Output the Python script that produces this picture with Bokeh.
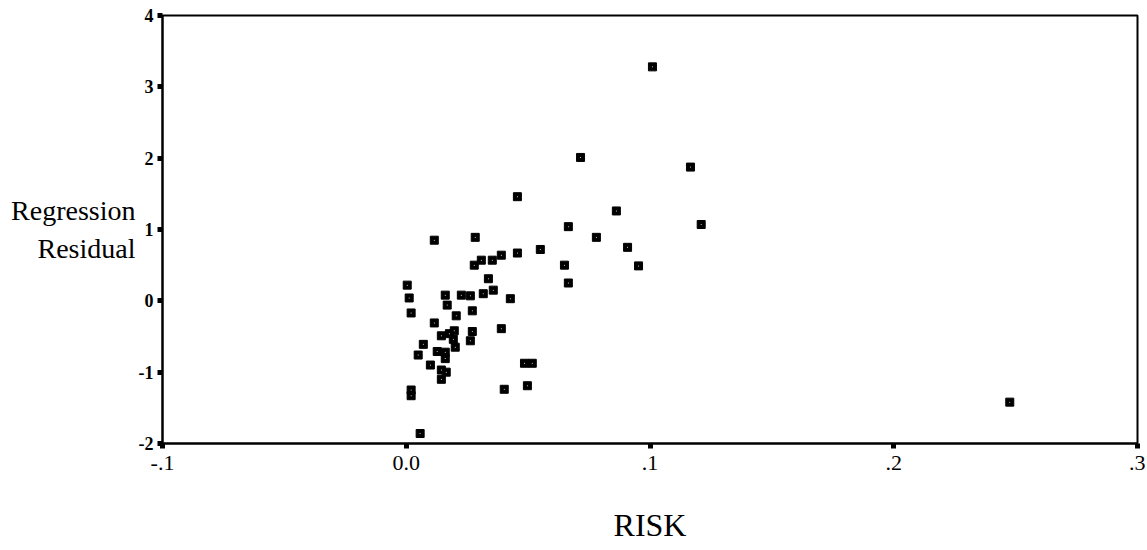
from bokeh.plotting import figure
from bokeh.models import ColumnDataSource, Range1d, FixedTicker
from bokeh.embed import file_html
from bokeh.resources import INLINE

# Data
risk = [0.101, 0.0715, 0.1166, 0.0456, 0.0862, 0.0665, 0.121, 0.078, 0.0908, 0.0115,
        0.0283, 0.055, 0.0308, 0.0353, 0.039, 0.0456, 0.0649, 0.0953, 0.0279, 0.0665,
        0.0004, 0.0012, 0.002, 0.016, 0.0226, 0.0263, 0.0316, 0.0357, 0.0337, 0.0427,
        0.0168, 0.0205, 0.0271, 0.0115, 0.0271, 0.0263, 0.039, 0.0144, 0.0177, 0.0197,
        0.0193, 0.0201, 0.007, 0.0049, 0.0127, 0.016, 0.016, 0.0099, 0.0144, 0.0164,
        0.0144, 0.002, 0.002, 0.0057, 0.0485, 0.0517, 0.0402, 0.0497, 0.2476]
residual = [3.28, 2.01, 1.875, 1.46, 1.26, 1.04, 1.07, 0.89, 0.75, 0.85,
            0.89, 0.72, 0.57, 0.57, 0.64, 0.67, 0.5, 0.49, 0.5, 0.25,
            0.22, 0.04, -0.17, 0.08, 0.08, 0.07, 0.1, 0.15, 0.31, 0.03,
            -0.06, -0.21, -0.14, -0.31, -0.43, -0.56, -0.39, -0.49, -0.46, -0.42,
            -0.54, -0.65, -0.61, -0.76, -0.71, -0.72, -0.81, -0.9, -0.97, -1.0,
            -1.1, -1.25, -1.33, -1.86, -0.875, -0.875, -1.24, -1.19, -1.42]

x_ticks = [-0.1, 0.0, 0.1, 0.2, 0.3]
x_tick_labels = ["-.1", "0.0", ".1", ".2", ".3"]
y_ticks = [-2, -1, 0, 1, 2, 3, 4]
y_tick_labels = ["-2", "-1", "0", "1", "2", "3", "4"]
x_title = "RISK"
y_title = "Regression\nResidual"

FONT = "Liberation Serif"

src = ColumnDataSource(dict(x=risk, y=residual))

p = figure(width=1145, height=545, output_backend="svg", toolbar_location=None,
           x_range=Range1d(x_ticks[0], x_ticks[-1]), y_range=Range1d(y_ticks[0], y_ticks[-1]),
           min_border_left=162, min_border_right=8, min_border_top=15, min_border_bottom=98)

p.xgrid.visible = False
p.ygrid.visible = False
p.outline_line_color = "black"
p.outline_line_width = 2
p.background_fill_color = "white"
p.border_fill_color = "white"

p.square(x="x", y="y", source=src, size=8, fill_color="black", line_color="black", line_width=1)
p.scatter(x="x", y="y", source=src, size=1, fill_color="white", line_color=None)

p.xaxis.ticker = FixedTicker(ticks=x_ticks)
p.xaxis.major_label_overrides = {t: l for t, l in zip(x_ticks, x_tick_labels)}
p.yaxis.ticker = FixedTicker(ticks=y_ticks)
p.yaxis.major_label_overrides = {t: l for t, l in zip(y_ticks, y_tick_labels)}

for ax in (p.xaxis[0], p.yaxis[0]):
    ax.axis_line_width = 2
    ax.axis_line_color = "black"
    ax.major_tick_line_width = 5
    ax.major_tick_line_color = "black"
    ax.major_tick_in = 0
    ax.major_tick_out = 5
    ax.minor_tick_line_color = None
    ax.major_label_text_font = FONT
    ax.major_label_text_color = "black"

p.xaxis.major_label_text_font_size = "22px"
p.xaxis.major_label_standoff = 7
p.yaxis.major_label_text_font_size = "18px"
p.yaxis.major_label_text_font_style = "bold"
p.yaxis.major_label_standoff = 4

p.xaxis.axis_label = x_title
p.xaxis.axis_label_text_font = FONT
p.xaxis.axis_label_text_font_size = "32px"
p.xaxis.axis_label_text_font_style = "normal"
p.xaxis.axis_label_text_color = "black"
p.xaxis.axis_label_standoff = 34

p.yaxis.axis_label = y_title
p.yaxis.axis_label_orientation = "horizontal"
p.yaxis.axis_label_text_align = "center"
p.yaxis.axis_label_text_font = FONT
p.yaxis.axis_label_text_font_size = "28px"
p.yaxis.axis_label_text_line_height = 1.25
p.yaxis.axis_label_text_font_style = "normal"
p.yaxis.axis_label_text_color = "black"
p.yaxis.axis_label_standoff = 0

open("out.html", "w").write(file_html(p, INLINE))
